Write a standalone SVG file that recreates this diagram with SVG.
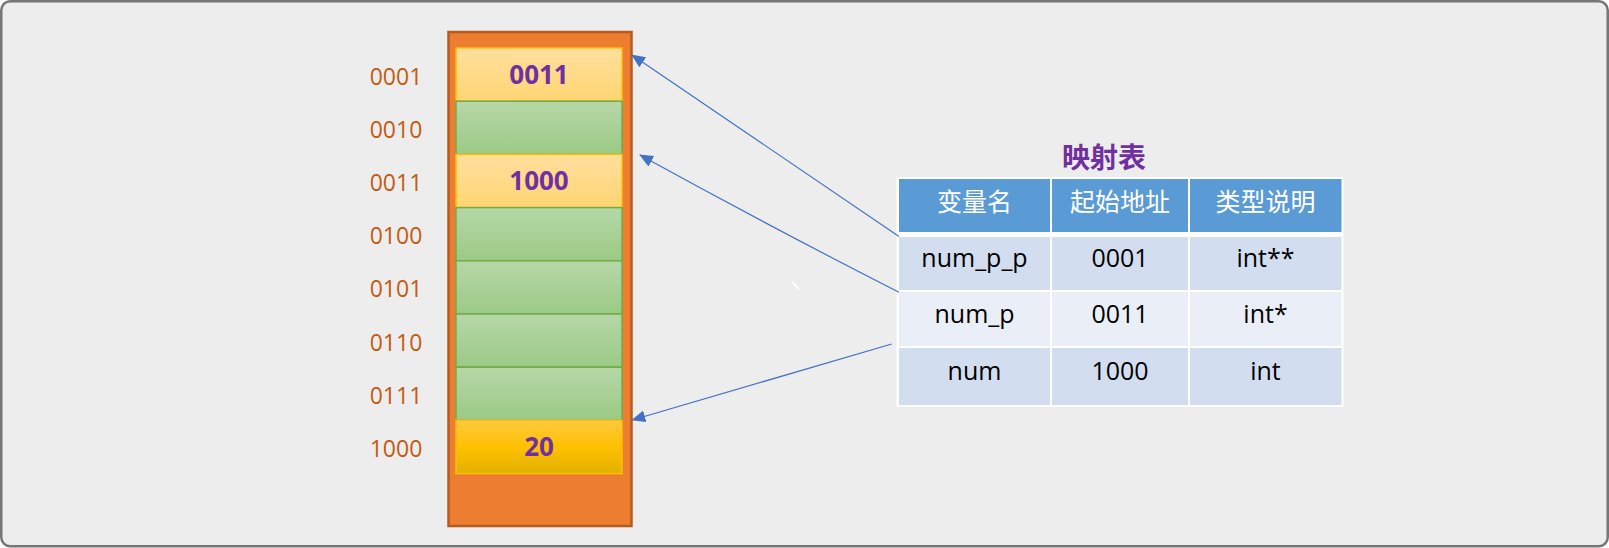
<svg xmlns="http://www.w3.org/2000/svg" width="1609" height="548" viewBox="0 0 1609 548">
<defs>
<linearGradient id="gY" x1="0" y1="0" x2="0" y2="1"><stop offset="0" stop-color="#FFDF9F"/><stop offset="1" stop-color="#FFD572"/></linearGradient>
<linearGradient id="gG" x1="0" y1="0" x2="0" y2="1"><stop offset="0" stop-color="#B6D7A8"/><stop offset="1" stop-color="#9BCA85"/></linearGradient>
<linearGradient id="gO" x1="0" y1="0" x2="0" y2="1"><stop offset="0" stop-color="#FFC940"/><stop offset="0.5" stop-color="#FFC000"/><stop offset="1" stop-color="#E2B000"/></linearGradient>
<marker id="arr" markerUnits="userSpaceOnUse" markerWidth="14" markerHeight="12" refX="13" refY="6" orient="auto"><path d="M0,0 L14,6 L0,12 Z" fill="#4472C4"/></marker>
</defs>
<style>
.addr{font-family:"Open Sans","Liberation Sans",sans-serif;font-size:23px;fill:#C55A11;text-anchor:middle}
.val{font-family:"Open Sans","Liberation Sans",sans-serif;font-size:26px;font-weight:bold;fill:#7030A0;text-anchor:middle}
.cy{fill:url(#gY);stroke:#FFC000;stroke-width:1.5}
.cg{fill:url(#gG);stroke:#70AD47;stroke-width:1.5}
.hd{font-family:"Open Sans","Noto Sans CJK SC",sans-serif;font-size:25px;fill:#FFFFFF;text-anchor:middle}
.bd{font-family:"Open Sans","Liberation Sans",sans-serif;font-size:25px;fill:#000000;text-anchor:middle}
.conn{fill:none;stroke:#4472C4;stroke-width:1.2;marker-end:url(#arr)}
</style>
<rect x="1.25" y="1.25" width="1606.5" height="545" rx="9" fill="#EDEDED" stroke="#767676" stroke-width="2.5"/>

<g id="memory">
<rect x="448.5" y="32" width="183" height="494" fill="#ED7D31" stroke="#B65A1E" stroke-width="2.5"/>
<rect class="cy" x="456" y="48" width="166" height="53.2"/>
<rect class="cg" x="456" y="101.2" width="166" height="53.2"/>
<rect class="cy" x="456" y="154.4" width="166" height="53.2"/>
<rect class="cg" x="456" y="207.6" width="166" height="53.2"/>
<rect class="cg" x="456" y="260.8" width="166" height="53.2"/>
<rect class="cg" x="456" y="314" width="166" height="53.2"/>
<rect class="cg" x="456" y="367.2" width="166" height="53.2"/>
<rect x="456" y="420.4" width="166" height="53.2" fill="url(#gO)" stroke="#FFC000" stroke-width="1.5"/>
<text class="val" x="539" y="83.5">0011</text>
<text class="val" x="539" y="189.5">1000</text>
<text class="val" x="539" y="456">20</text>
</g>

<g id="addresses">
<text class="addr" x="396" y="84.5">0001</text>
<text class="addr" x="396" y="137.7">0010</text>
<text class="addr" x="396" y="190.9">0011</text>
<text class="addr" x="396" y="244.1">0100</text>
<text class="addr" x="396" y="297.3">0101</text>
<text class="addr" x="396" y="350.5">0110</text>
<text class="addr" x="396" y="403.7">0111</text>
<text class="addr" x="396" y="456.9">1000</text>
</g>

<g id="table">
<text x="1104" y="168" text-anchor="middle" font-family="'Noto Sans CJK SC',sans-serif" font-size="28" font-weight="bold" fill="#7030A0">映射表</text>
<rect x="896.5" y="177" width="447" height="230" fill="#FFFFFF"/>
<rect x="899" y="179" width="151" height="53" fill="#5B9BD5"/>
<rect x="1052" y="179" width="136" height="53" fill="#5B9BD5"/>
<rect x="1190" y="179" width="151.5" height="53" fill="#5B9BD5"/>
<rect x="899" y="237" width="151" height="53" fill="#D2DEEF"/>
<rect x="1052" y="237" width="136" height="53" fill="#D2DEEF"/>
<rect x="1190" y="237" width="151.5" height="53" fill="#D2DEEF"/>
<rect x="899" y="292" width="151" height="54" fill="#EAEFF7"/>
<rect x="1052" y="292" width="136" height="54" fill="#EAEFF7"/>
<rect x="1190" y="292" width="151.5" height="54" fill="#EAEFF7"/>
<rect x="899" y="348" width="151" height="57" fill="#D2DEEF"/>
<rect x="1052" y="348" width="136" height="57" fill="#D2DEEF"/>
<rect x="1190" y="348" width="151.5" height="57" fill="#D2DEEF"/>
<text class="hd" x="974.5" y="210.5">变量名</text>
<text class="hd" x="1120" y="210.5">起始地址</text>
<text class="hd" x="1265.5" y="210.5">类型说明</text>
<text class="bd" x="974.5" y="267">num_p_p</text>
<text class="bd" x="1120" y="267">0001</text>
<text class="bd" x="1265.5" y="267">int**</text>
<text class="bd" x="974.5" y="323">num_p</text>
<text class="bd" x="1120" y="323">0011</text>
<text class="bd" x="1265.5" y="323">int*</text>
<text class="bd" x="974.5" y="380">num</text>
<text class="bd" x="1120" y="380">1000</text>
<text class="bd" x="1265.5" y="380">int</text>
</g>

<g id="connectors">
<path class="conn" d="M899,236.5 L632,55"/>
<path class="conn" d="M899,292.3 Q769,226 640,155"/>
<path class="conn" d="M891.7,344 L632.3,420"/>
</g>
<path d="M792,282 L799,289" stroke="#FFFFFF" stroke-width="2" fill="none"/>
</svg>
